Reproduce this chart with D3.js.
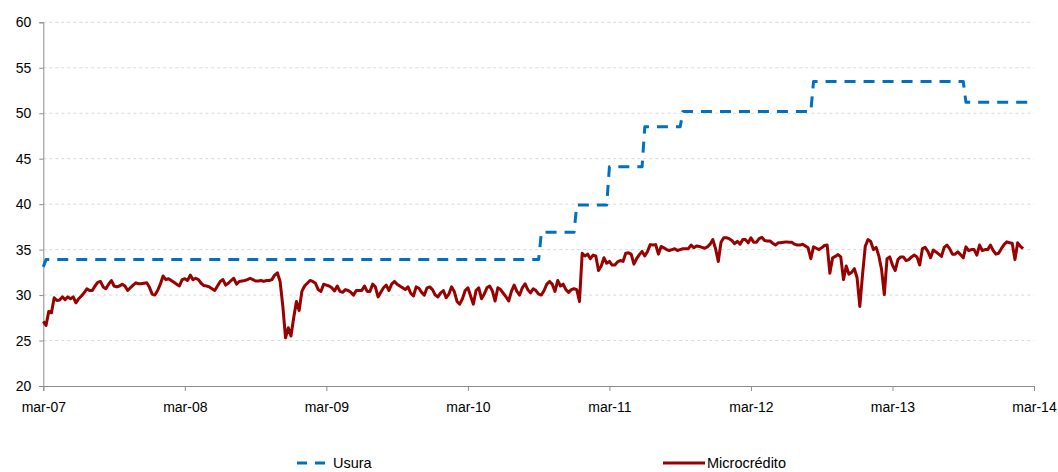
<!DOCTYPE html>
<html>
<head>
<meta charset="utf-8">
<script src="https://cdn.jsdelivr.net/npm/d3@7/dist/d3.min.js"></script>
<style>
  html, body { margin: 0; padding: 0; background: #ffffff; }
  svg { display: block; font-family: "Liberation Sans", Arial, sans-serif; }
</style>
</head>
<body>
<svg id="chart" width="1058" height="472"></svg>
<script>
// ---------- DATA ----------
const seriesNames = ["Usura", "Microcrédito"];
// weekly category axis: a label every 52 weeks
const xTickLabels = ["mar-07","mar-08","mar-09","mar-10","mar-11","mar-12","mar-13","mar-14"];
const xTickWeeks  = [0, 52, 104, 156, 208, 260, 312, 364];
const yTicks = [20, 25, 30, 35, 40, 45, 50, 55, 60];

// Usura (step series): value held from first week to last week of each period
const usuraValues    = [33.1, 33.9, 36.9, 39.9, 44.1, 48.5, 50.2, 53.5, 51.2];
const usuraFirstWeek = [0,    1,    183,  196,  208,  221,  235,  283,  339];
const usuraLastWeek  = [0,    182,  195,  207,  220,  234,  282,  338,  362];

// Microcrédito (weekly values, week 0 .. 360)
const microValues = [
  // 2007-2008
  27.1, 26.65, 28.2, 28.05, 29.7, 29.4, 29.45, 29.8, 29.5, 29.8,
  29.6, 29.8, 29.15, 29.6, 29.9, 30.25, 30.7, 30.5, 30.5, 31.0,
  31.4, 31.5, 30.9, 30.7, 31.2, 31.6, 31.0, 30.9, 31.0, 31.2,
  31.0, 30.5, 30.8, 31.1, 31.35, 31.25, 31.25, 31.3, 31.35, 30.85,
  30.1, 30.0, 30.5, 31.2, 32.1, 31.7, 31.8, 31.6, 31.4, 31.2,
  31.0, 31.7, 31.8, 31.6, 32.2, 31.7, 31.85, 31.7, 31.3, 31.05,
  // 2008-2009
  31.0, 30.9, 30.7, 30.5, 31.0, 31.5, 31.7, 31.1, 31.3, 31.6,
  31.85, 31.2, 31.5, 31.55, 31.6, 31.7, 31.85, 31.7, 31.55, 31.55,
  31.6, 31.5, 31.6, 31.6, 31.7, 32.2, 32.45, 31.5, 28.8, 25.3,
  26.4, 25.5, 27.5, 29.3, 28.3, 30.4, 31.0, 31.3, 31.6, 31.5,
  31.3, 30.6, 30.4, 31.2, 31.1, 31.0, 30.8, 30.45, 31.0, 30.4,
  30.3, 30.6, 30.5, 30.3, 30.0, 30.5, 30.5, 30.5, 31.0, 30.4,
  // 2009-2010
  30.4, 31.2, 30.9, 29.8, 30.3, 30.8, 31.1, 30.5, 31.2, 31.5,
  31.2, 31.0, 30.8, 30.6, 30.9, 30.2, 29.9, 30.9, 30.75, 30.3,
  30.0, 30.8, 30.9, 30.6, 30.0, 29.8, 30.25, 30.5, 29.7, 30.1,
  30.9, 30.4, 29.3, 29.0, 29.6, 30.5, 30.8, 29.9, 29.0, 30.5,
  30.8, 29.6, 30.1, 30.8, 31.0, 30.45, 29.35, 30.8, 30.6, 30.2,
  29.8, 29.35, 30.4, 31.1, 30.4, 30.0, 30.8, 31.25, 30.6,
  // 2010-2011
  30.25, 30.7, 30.5, 30.1, 30.0, 30.5, 31.2, 31.5, 31.2, 30.4,
  31.6, 31.0, 31.2, 30.6, 30.3, 30.6, 30.7, 30.6, 29.3, 34.6,
  34.3, 34.5, 34.0, 34.4, 34.3, 32.7, 33.2, 34.1, 33.5, 33.7,
  33.3, 33.3, 33.65, 33.8, 33.7, 34.6, 34.65, 34.5, 33.4, 34.0,
  34.45, 34.8, 34.3, 34.8, 35.55, 35.5, 35.55, 34.5, 35.35, 35.2,
  35.0, 34.9, 35.0, 35.1, 34.9, 35.0, 35.1, 35.1, 35.1, 35.5,
  // 2011-2012
  35.2, 35.4, 35.35, 35.25, 35.15, 35.3, 35.6, 36.1, 35.1, 33.7,
  35.8, 36.3, 36.3, 36.2, 36.0, 35.65, 35.9, 35.6, 36.1, 36.1,
  35.75, 36.3, 35.8, 35.8, 36.2, 36.35, 36.0, 35.95, 35.95, 35.7,
  35.5, 35.75, 35.75, 35.8, 35.85, 35.8, 35.8, 35.6, 35.5, 35.5,
  35.6, 35.4, 35.2, 34.0, 35.3, 35.15, 35.0, 35.2, 35.45, 35.5,
  32.4, 34.1, 34.25, 34.45, 34.2, 31.7, 33.2, 32.3, 32.5,
  // 2012-2014
  32.9, 31.9, 28.75, 32.25, 35.35, 36.1, 35.9, 35.0, 35.25, 34.3,
  32.8, 30.05, 34.0, 34.2, 33.3, 32.7, 33.9, 34.2, 34.2, 33.8,
  33.9, 34.2, 34.4, 34.2, 33.3, 35.1, 35.25, 34.8, 34.1, 34.95,
  34.75, 34.5, 34.25, 35.25, 35.5, 35.1, 34.5, 34.5, 34.75, 34.45,
  34.1, 35.3, 34.9, 35.0, 35.0, 34.4, 35.5, 34.9, 35.0, 35.0,
  35.5, 34.9, 34.5, 34.6, 35.1, 35.55, 35.85, 35.75, 35.7, 33.9,
  35.75, 35.35, 35.1
];

// ---------- CHART ----------
const svg = d3.select("#chart");
const plotLeft = 43.3, plotRight = 1034, plotTop = 22.3, plotBottom = 386;

const x = d3.scaleLinear()
  .domain([xTickWeeks[0], xTickWeeks[xTickWeeks.length - 1]])
  .range([plotLeft, plotRight]);
const y = d3.scaleLinear().domain([20, 60]).range([plotBottom, plotTop]);

// gridlines
svg.append("g").selectAll("line")
  .data(yTicks.filter(v => v > 20))
  .join("line")
  .attr("x1", plotLeft).attr("x2", plotRight)
  .attr("y1", d => y(d)).attr("y2", d => y(d))
  .attr("stroke", "#d9d9d9").attr("stroke-width", 1)
  .attr("stroke-dasharray", "3,3");

// y axis
const yAxis = svg.append("g")
  .attr("transform", `translate(${plotLeft},0)`)
  .call(d3.axisLeft(y).tickValues(yTicks).tickSize(4).tickPadding(8).tickFormat(d3.format("d")));
yAxis.select(".domain").attr("stroke", "#8c8c8c");
yAxis.selectAll(".tick line").attr("stroke", "#8c8c8c");
yAxis.selectAll("text").attr("font-size", 14).attr("fill", "#000")
  .attr("font-family", "'Liberation Sans', Arial, sans-serif");

// x axis
const xAxis = svg.append("g")
  .attr("transform", `translate(0,${plotBottom})`)
  .call(d3.axisBottom(x)
    .tickValues(xTickWeeks)
    .tickSize(5).tickPadding(11)
    .tickFormat((d, i) => xTickLabels[i]));
xAxis.select(".domain").attr("stroke", "#8c8c8c");
xAxis.selectAll(".tick line").attr("stroke", "#8c8c8c");
xAxis.selectAll("text").attr("font-size", 14).attr("fill", "#000")
  .attr("font-family", "'Liberation Sans', Arial, sans-serif");

// Usura points
const usuraPoints = [];
usuraValues.forEach((v, i) => {
  usuraPoints.push({ w: usuraFirstWeek[i], v });
  if (usuraLastWeek[i] !== usuraFirstWeek[i]) usuraPoints.push({ w: usuraLastWeek[i], v });
});
const microPoints = microValues.map((v, i) => ({ w: i, v }));

const line = d3.line().x(d => x(d.w)).y(d => y(d.v));

svg.append("path")
  .datum(microPoints)
  .attr("d", line)
  .attr("fill", "none")
  .attr("stroke", "#990000")
  .attr("stroke-width", 3)
  .attr("stroke-linejoin", "round");

svg.append("path")
  .datum(usuraPoints)
  .attr("d", line)
  .attr("fill", "none")
  .attr("stroke", "#0070c0")
  .attr("stroke-width", 3)
  .attr("stroke-dasharray", "11,8")
  .attr("stroke-linejoin", "round");

// legend
const legendY = 463;
const lg = svg.append("g");
lg.append("line").attr("x1", 297).attr("x2", 327).attr("y1", legendY).attr("y2", legendY)
  .attr("stroke", "#0070c0").attr("stroke-width", 3).attr("stroke-dasharray", "10,8");
lg.append("text").attr("x", 333).attr("y", legendY + 5).attr("font-size", 14.5)
  .attr("fill", "#000").text(seriesNames[0]);
lg.append("line").attr("x1", 663).attr("x2", 705).attr("y1", legendY).attr("y2", legendY)
  .attr("stroke", "#990000").attr("stroke-width", 3);
lg.append("text").attr("x", 707).attr("y", legendY + 5).attr("font-size", 14.5)
  .attr("fill", "#000").text(seriesNames[1]);
</script>
</body>
</html>
